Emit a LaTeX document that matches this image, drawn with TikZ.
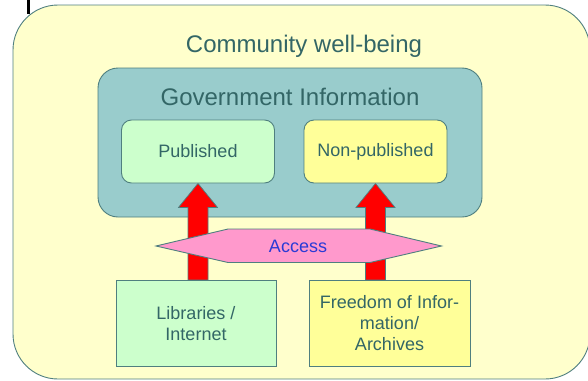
\documentclass[tikz,border=0pt]{standalone}
\usepackage{fontspec}
\setmainfont{Liberation Sans}
\usetikzlibrary{calc}
\pgfdeclarelayer{panel}
\pgfdeclarelayer{arrowlayer}
\pgfsetlayers{panel,arrowlayer,main}
\definecolor{bgfill}{HTML}{FFFFCC}
\definecolor{edgec}{HTML}{4F7F7F}
\definecolor{txtc}{HTML}{336666}
\definecolor{govfill}{HTML}{99CCCC}
\definecolor{greenfill}{HTML}{CCFFCC}
\definecolor{yellowfill}{HTML}{FFFF99}
\definecolor{pinkfill}{HTML}{FF99CC}
\definecolor{accessc}{HTML}{2A3AD6}
\newcommand{\blockarrow}[2]{%
  \draw[bigarrow] ($(#1 -| #2)+(-10,0)$) -- ($(#2)+(-10,24)$) -- ($(#2)+(-19.5,24)$) -- (#2)
    -- ($(#2)+(19.5,24)$) -- ($(#2)+(10,24)$) -- ($(#1 -| #2)+(10,0)$) -- cycle;}
\begin{document}
\begin{tikzpicture}[x=1pt,y=-1pt,
  boxbase/.style={draw=edgec, line width=0.9pt, inner sep=0pt, text=txtc, font=\fontsize{18}{21}\selectfont, align=center},
  roundbox/.style={boxbase, rounded corners=10pt},
  squarebox/.style={boxbase},
  bigarrow/.style={fill=red, draw=edgec, line width=0.7pt, line join=miter},
  titletext/.style={text=txtc, font=\fontsize{24}{28}\selectfont, anchor=base, inner sep=0pt}
]
\useasboundingbox (0,0) rectangle (588,380);
\begin{pgfonlayer}{panel}
% outer panel
\draw[draw=edgec, line width=0.9pt, fill=bgfill, rounded corners=45pt] (13,5) rectangle (590,379);
\fill[black] (27,0) rectangle (29.5,14);
% government information
\node[boxbase, rounded corners=20pt, fill=govfill, minimum width=384pt, minimum height=149pt] (gov) at (290,142.5) {};
\end{pgfonlayer}
\node[titletext] (comm) at (304,52) {Community well-being};
\node[titletext] (govtitle) at (290,105.5) {Government Information};
\node[roundbox, fill=greenfill, minimum width=153pt, minimum height=63pt] (pub) at (198,151.5) {Published};
\node[roundbox, fill=yellowfill, minimum width=143pt, minimum height=63pt] (nonpub) at (375.5,151.5) {Non-published};
% bottom boxes
\node[squarebox, fill=greenfill, minimum width=160pt, minimum height=86pt] (lib) at (196,323.5) {Libraries /\\Internet};
\node[squarebox, fill=yellowfill, minimum width=161pt, minimum height=86pt] (foi) at (389.5,323.5) {Freedom of Infor-\\mation/\\Archives};
% arrows
\begin{pgfonlayer}{arrowlayer}
\blockarrow{lib.north}{pub.south}
\blockarrow{foi.north}{nonpub.south}
\end{pgfonlayer}
% access hexagon
\coordinate (hl) at (156,246);
\coordinate (htl) at (228,229);
\coordinate (htr) at (370,229);
\coordinate (hr) at (441.5,246);
\coordinate (hbr) at (370,262.5);
\coordinate (hbl) at (228,262.5);
\draw[draw=edgec, line width=0.9pt, fill=pinkfill] (hl) -- (htl) -- (htr) -- (hr) -- (hbr) -- (hbl) -- cycle;
\node[text=accessc, font=\fontsize{18}{21}\selectfont, inner sep=0pt] (access) at (298,246) {Access};
\end{tikzpicture}
\end{document}
